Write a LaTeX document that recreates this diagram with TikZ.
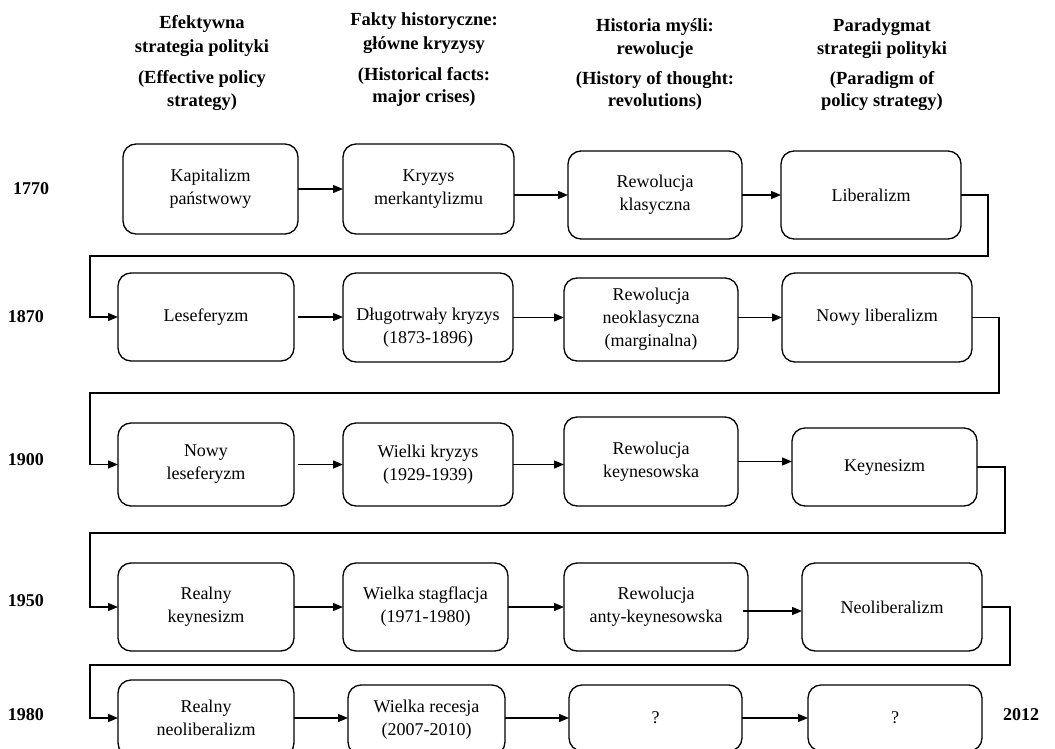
\documentclass[tikz,border=0pt]{standalone}
\usepackage{fontspec}
\setmainfont{Liberation Serif}
\usetikzlibrary{arrows.meta,calc}
\begin{document}
\begin{tikzpicture}[x=1pt,y=-1pt,
  box/.style={draw, line width=1.3pt, rounded corners=13pt, inner sep=0pt, outer sep=0pt, align=center, font=\fontsize{18}{23}\selectfont},
  boxtext/.style={inner sep=0pt, align=center, font=\fontsize{18}{23}\selectfont},
  hdr/.style={anchor=base, inner sep=0pt, font=\fontsize{18.5}{22}\selectfont\bfseries},
  yr/.style={inner sep=0pt, font=\fontsize{18}{22}\selectfont\bfseries},
  arr/.style={line width=1.3pt, -{Triangle[length=10pt,width=8pt]}},
  loop/.style={line width=1.3pt, -{Triangle[length=10pt,width=8pt]}},
]
\useasboundingbox (0,0) rectangle (1055,749);

% headers
\node[hdr] (h11) at (202,29) {Efektywna};
\node[hdr] (h12) at (202,53) {strategia polityki};
\node[hdr] (h13) at (202,84) {(Effective policy};
\node[hdr] (h14) at (202,107) {strategy)};
\node[hdr] (h21) at (424,26) {Fakty historyczne:};
\node[hdr] (h22) at (424,50) {główne kryzysy};
\node[hdr] (h23) at (424,81) {(Historical facts:};
\node[hdr] (h24) at (424,103) {major crises)};
\node[hdr] (h31) at (655,32) {Historia myśli:};
\node[hdr] (h32) at (655,55) {rewolucje};
\node[hdr] (h33) at (655,85) {(History of thought:};
\node[hdr] (h34) at (655,107) {revolutions)};
\node[hdr] (h41) at (882,32) {Paradygmat};
\node[hdr] (h42) at (882,55) {strategii polityki};
\node[hdr] (h43) at (882,85) {(Paradigm of};
\node[hdr] (h44) at (882,107) {policy strategy)};

% years
\node[yr] (y1) at (31,189) {1770};
\node[yr] (y2) at (26,317) {1870};
\node[yr] (y3) at (26,460) {1900};
\node[yr] (y4) at (26,601) {1950};
\node[yr] (y5) at (26,715) {1980};
\node[yr] (y6) at (1021,715) {2012};

% row 1
\node[box, minimum width=175pt, minimum height=90pt] (A1) at (210.5,189) {Kapitalizm\\państwowy};
\node[box, minimum width=171pt, minimum height=90pt] (A2) at (428.5,189) {Kryzys\\merkantylizmu};
\node[box, minimum width=174pt, minimum height=88pt] (A3) at (655,195) {Rewolucja\\klasyczna};
\node[box, minimum width=180pt, minimum height=88pt] (A4) at (871,195) {Liberalizm};
% row 2
\node[box, minimum width=176pt, minimum height=88pt] (B1) at (206,317) {Leseferyzm};
\node[box, minimum width=170pt, minimum height=89pt,
  label={[boxtext, yshift=-10pt]center:{Długotrwały kryzys\\(1873-1896)}}] (B2) at (428,317.5) {};
\node[box, minimum width=174pt, minimum height=83pt] (B3) at (651,319.5) {Rewolucja\\neoklasyczna\\(marginalna)};
\node[box, minimum width=190pt, minimum height=89pt] (B4) at (877,317.5) {Nowy liberalizm};
% row 3
\node[box, minimum width=176pt, minimum height=83pt] (C1) at (206,464.5) {Nowy\\leseferyzm};
\node[box, minimum width=170pt, minimum height=83pt] (C2) at (428,464.5) {Wielki kryzys\\(1929-1939)};
\node[box, minimum width=174pt, minimum height=89pt] (C3) at (651,461.5) {Rewolucja\\keynesowska};
\node[box, minimum width=185pt, minimum height=78pt] (C4) at (884.5,467) {Keynesizm};
% row 4
\node[box, minimum width=176pt, minimum height=88pt] (D1) at (206,607) {Realny\\keynesizm};
\node[box, minimum width=165pt, minimum height=88pt] (D2) at (425.5,607) {Wielka stagflacja\\(1971-1980)};
\node[box, minimum width=184pt, minimum height=88pt] (D3) at (656,607) {Rewolucja\\anty-keynesowska};
\node[box, minimum width=180pt, minimum height=88pt] (D4) at (892,607) {Neoliberalizm};
% row 5
\node[box, minimum width=176pt, minimum height=76pt] (E1) at (206,718) {Realny\\neoliberalizm};
\node[box, minimum width=157pt, minimum height=70pt] (E2) at (426.5,720) {Wielka recesja\\(2007-2010)};
\node[box, minimum width=173pt, minimum height=66pt] (E3) at (655.5,718) {?};
\node[box, minimum width=174pt, minimum height=66pt] (E4) at (895,718) {?};

% row 1 connectors
\draw[arr] (A1.east) -- (A2.west);
\draw[arr] (A2.east |- A3.west) -- (A3.west);
\draw[arr] (A3.east) -- (A4.west);
\draw[loop] (A4.east) -- ++(27,0) |- (90,256) |- (B1.west);
% row 2
\draw[arr, shorten <=4pt] (B1.east) -- (B1.east -| B2.west);
\draw[arr] (B2.east) -- (B2.east -| B3.west);
\draw[arr] (B3.east |- B4.west) -- (B4.west);
\draw[loop] (B4.east) -- ++(27,0) |- (90,393) |- (C1.west);
% row 3
\draw[arr, shorten <=4pt] (C1.east) -- (C2.west);
\draw[arr] (C2.east) -- (C2.east -| C3.west);
\draw[arr] (C3.east) -- (C3.east -| C4.west);
\draw[loop] (C4.east) -- ++(28,0) |- (90,533) |- (D1.west);
% row 4
\draw[arr] (D1.east) -- (D2.west);
\draw[arr] (D2.east) -- (D3.west);
\coordinate (d34) at ($(D3.east)+(-5,4)$);
\draw[arr] (d34) -- (d34 -| D4.west);
\draw[loop] (D4.east) -- ++(28,0) |- (90,665) |- (E1.west);
% row 5
\draw[arr] (E1.east) -- (E1.east -| E2.west);
\draw[arr] (E2.east |- E3.west) -- (E3.west);
\draw[arr] (E3.east) -- (E4.west);
\end{tikzpicture}
\end{document}
